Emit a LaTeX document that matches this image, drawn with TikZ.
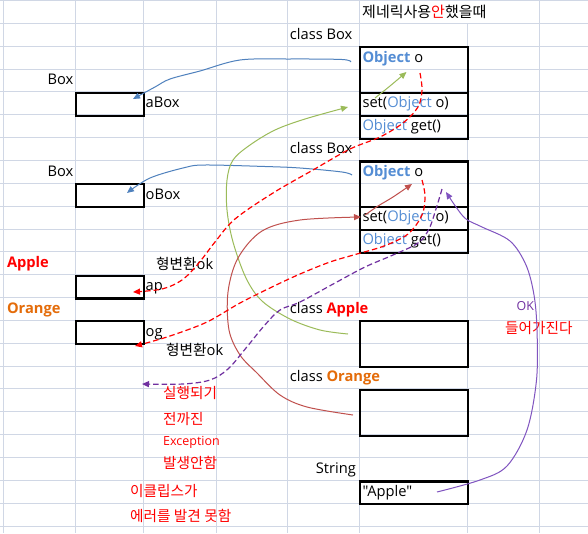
\documentclass[tikz,border=0pt]{standalone}
\usepackage{fontspec}
\setmainfont{Open Sans}
\newfontfamily\plainq{Open Sans}[Ligatures=TeXOff]
\newfontfamily\cjk{Noto Sans CJK KR}
\usetikzlibrary{arrows.meta}
\definecolor{gridc}{RGB}{208,215,229}
\definecolor{objblue}{RGB}{84,141,212}
\definecolor{exorange}{RGB}{228,108,10}
\definecolor{arrblue}{RGB}{79,129,189}
\definecolor{arrgreen}{RGB}{155,187,89}
\definecolor{arrred}{RGB}{192,80,77}
\definecolor{arrpurple}{RGB}{112,48,160}
\definecolor{arrpurplesolid}{RGB}{128,84,192}
\begin{document}
\begin{tikzpicture}[x=1pt,y=-1pt,
  txt/.style={inner sep=0pt, anchor=base west, font=\fontsize{14.67}{17}\selectfont},
  txtr/.style={txt, anchor=base east},
  kor/.style={inner sep=0pt, anchor=base west, font=\fontsize{14.67}{17}\selectfont\cjk},
  small/.style={inner sep=0pt, anchor=base west, font=\fontsize{12.5}{14}\selectfont},
  cellbox/.style={draw=black, line width=2.2pt, inner sep=0pt, anchor=north west},
  gridline/.style={gridc, line width=1pt},
  conn/.style={line width=1pt, -{Triangle[length=7pt,width=6pt]}},
  dashconn/.style={conn, line width=1.2pt, dash pattern=on 5.5pt off 3pt},
  curve/.style={smooth, tension=0.55}
]
\useasboundingbox (0,0) rectangle (588,533);
\fill[white] (0,0) rectangle (588,533);
% grid
\foreach \x in {3.3,75,143,216,287,539}
  \draw[gridline] (\x,0) -- (\x,533);
\draw[gridline] (467,23.35) -- (467,533);
\draw[gridline] (359,0) -- (359,297.4) (359,320.2) -- (359,365.9) (359,388.8) -- (359,533);
\foreach \k in {0,...,23}
  \draw[gridline] (0,{0.5+22.85*\k}) -- (588,{0.5+22.85*\k});

% boxes
\node[cellbox, minimum width=68, minimum height=22.8] (abox) at (75,91.9) {};
\node[cellbox, minimum width=68, minimum height=22.8] (obox) at (75,183.2) {};
\node[cellbox, minimum width=68, minimum height=22.8] (apbox) at (75,274.6) {};
\node[cellbox, minimum width=68, minimum height=22.9] (ogbox) at (75,320.2) {};
\node[cellbox, minimum width=108, minimum height=45.7] (b1a) at (359,46.2) {};
\node[cellbox, minimum width=108, minimum height=22.8] (b1b) at (359,91.9) {};
\node[cellbox, minimum width=108, minimum height=22.8] (b1c) at (359,114.7) {};
\node[cellbox, minimum width=108, minimum height=45.6] (b2a) at (359,160.4) {};
\node[cellbox, minimum width=108, minimum height=22.9] (b2b) at (359,206) {};
\node[cellbox, minimum width=108, minimum height=22.8] (b2c) at (359,228.9) {};
\node[cellbox, minimum width=108, minimum height=45.7] (applebox) at (359,320.2) {};
\node[cellbox, minimum width=108, minimum height=45.7] (orangebox) at (359,388.8) {};
\node[cellbox, minimum width=108, minimum height=22.8] (strbox) at (359,480.4) {};

% texts
\node[kor, font=\fontsize{15}{17}\selectfont\cjk] (title) at (362,17.7) {제네릭사용\textcolor{red}{안}했을때};
\node[txt] (cbox1) at (289.7,39.2) {class Box};
\node[txt] (obj1) at (362.3,62) {\textcolor{objblue}{\bfseries Object} o};
\node[txtr] (boxl1) at (73.5,84.9) {Box};
\node[txt] (aboxt) at (145.5,107.7) {aBox};
\node[txt] (set1) at (362.3,107.7) {set(\textcolor{objblue}{Object} o)};
\node[txt] (get1) at (362.3,130.5) {\textcolor{objblue}{Object} get()};
\node[txt] (cbox2) at (289.7,153.4) {class Box};
\node[txt] (obj2) at (362.3,176.2) {\textcolor{objblue}{\bfseries Object} o};
\node[txtr] (boxl2) at (73.5,176.2) {Box};
\node[txt] (oboxt) at (145.5,199) {oBox};
\node[txt] (set2) at (362.3,221.9) {set(\textcolor{objblue}{Object} o)};
\node[txt] (get2) at (362.3,244.7) {\textcolor{objblue}{Object} get()};
\node[txt, text=red] (applel) at (6.8,267.6) {\bfseries Apple};
\node[kor] (cast1) at (156,269.6) {형변환{\fontspec{Open Sans}ok}};
\node[txt] (apt) at (145.5,290.4) {ap};
\node[txt, text=exorange] (orangel) at (6.8,313.2) {\bfseries Orange};
\node[txt] (capple) at (289.7,313.2) {class \textcolor{red}{\bfseries Apple}};
\node[small, text=arrpurple, font=\fontsize{12.4}{14}\selectfont] (okt) at (516.5,310) {OK};
\node[kor, text=red] (enter) at (505,333.7) {들어가진다};
\node[txt] (ogt) at (145.5,336.1) {og};
\node[kor] (cast2) at (166,355.4) {형변환{\fontspec{Open Sans}ok}};
\node[txt] (corange) at (289.7,381.8) {class \textcolor{exorange}{\bfseries Orange}};
\node[kor, text=red] (k1) at (163,398.7) {실행되기};
\node[kor, text=red] (k2) at (163,424.4) {전까진};
\node[small, text=red] (k3) at (163,445) {Exception};
\node[kor, text=red] (k4) at (163,468.7) {발생안함};
\node[kor, text=red] (k5) at (130,496) {이클립스가};
\node[kor, text=red] (k6) at (130,521) {에러를 발견 못함};
\node[txtr] (strl) at (356,473.4) {String};
\node[txt] (strt) at (362.3,496.2) {\plainq "Apple"};

% connector end points
\coordinate (b1s) at (351,62);   \coordinate (b1e) at (133,99);
\coordinate (b2s) at (352,175);  \coordinate (b2e) at (127,193);
\coordinate (g1s) at (348,334);  \coordinate (g1e) at (348,107);
\coordinate (g2s) at (375,98);   \coordinate (g2e) at (406.5,72);
\coordinate (r1s) at (353,415);  \coordinate (r1e) at (361,217);
\coordinate (r2s) at (365,215);  \coordinate (r2e) at (412,184);
\coordinate (d1s) at (420,73);   \coordinate (d1e) at (133,292);
\coordinate (d2s) at (422,180);  \coordinate (d2e) at (135,346);
\coordinate (p1s) at (442,189);  \coordinate (p1e) at (142,384);
\coordinate (p2s) at (437,492);  \coordinate (p2e) at (446,192);

% connectors
\draw[conn, arrblue] plot[curve] coordinates {(b1s) (342,59.5) (290,59) (240,60) (200,71) (170,79) (155,87) (b1e)};
\draw[conn, arrblue] plot[curve] coordinates {(b2s) (342,172) (300,168) (265,166.5) (205,165) (185,167.5) (150,178) (b2e)};
\draw[conn, arrgreen] plot[curve] coordinates {(g1s) (320,330) (290,319) (262,301) (246,278) (233,242) (227,210) (227,180) (233,160) (250,145) (275,130) (305,119) (g1e)};
\draw[conn, arrgreen] plot[curve] coordinates {(g2s) (390,86) (g2e)};
\draw[conn, arrred] plot[curve] coordinates {(r1s) (307,407) (280,395) (257,373) (240,355) (229,330) (228,292) (238,258) (262,231) (300,220) (r1e)};
\draw[conn, arrred] plot[curve] coordinates {(r2s) (378,206) (393,197) (r2e)};
\draw[dashconn, red] plot[curve] coordinates {(d1s) (422,90) (418,107) (403,123) (380,137) (350,149) (313,170) (273,193) (235,219) (215,242) (198,264) (182,280) (162,289) (d1e)};
\draw[dashconn, red] plot[curve] coordinates {(d2s) (425,196) (422,215) (408,234) (384,246) (357,254) (330,262) (300,274) (272,287) (240,303) (207,322) (173,335) (150,342) (d2e)};
\draw[dashconn, arrpurple] plot[curve] coordinates {(p1s) (436,209) (429,229) (418,243) (393,255) (365,267) (335,283) (300,302) (280,310) (264,326) (246,348) (228,369) (210,380) (183,384) (p1e)};
\draw[conn, arrpurplesolid] plot[curve] coordinates {(p2s) (480,480) (507,466) (527,430) (536.5,380) (537,330) (534,295) (526,265) (510,241) (482,227) (466,219) (456,207) (p2e)};
\end{tikzpicture}
\end{document}
